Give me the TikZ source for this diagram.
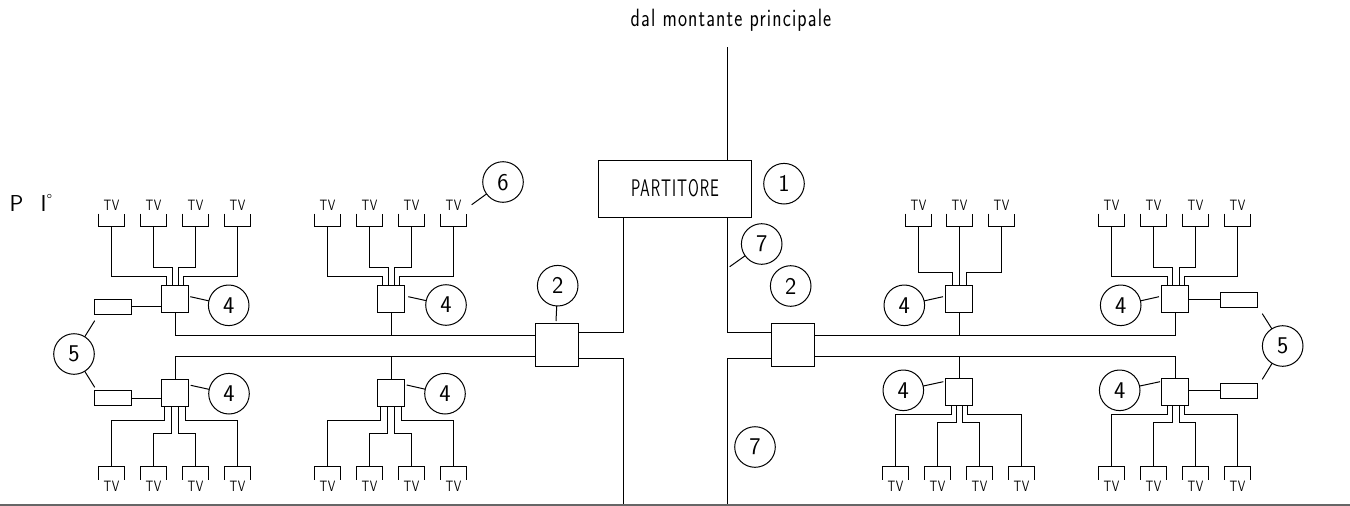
\documentclass[tikz,border=0pt]{standalone}
\usepackage{fontspec}
\newfontfamily\cadfont[LetterSpace=6]{lmsans17-regular.otf}
\newcommand\fs[1]{\fontsize{#1}{#1}\selectfont}
\tikzset{
  every path/.style={line width=1pt,line join=miter},
  every node/.style={inner sep=0pt,outer sep=0pt,font=\cadfont},
  wire/.style={draw=black},
  devbox/.style={draw,rectangle,minimum width=27pt,minimum height=27pt},
  bigbox/.style={draw,rectangle,minimum width=43pt,minimum height=43pt},
  endbox/.style={draw,rectangle,minimum width=37pt,minimum height=15pt},
  ball/.style={draw,circle,minimum size=40.6pt,font=\cadfont\fs{24},text depth=0pt},
  tvbr/.style={rectangle,minimum width=26pt,minimum height=13pt},
  tvtext/.style={font=\cadfont\fs{15},xscale=.8,transform shape},
  plain/.style={font=\cadfont\fs{25},xscale=.77,transform shape}
}
\newcommand\tvtop[2]{\node[tvbr] (#1) at (#2,220) {};
  \draw (#1.north west)--(#1.south west)--(#1.south east)--(#1.north east);
  \node[tvtext] (#1t) at (#2,205.3) {TV};}
\newcommand\tvbot[2]{\node[tvbr] (#1) at (#2,473) {};
  \draw (#1.south west)--(#1.north west)--(#1.north east)--(#1.south east);
  \node[tvtext] (#1t) at (#2,486.2) {TV};}
\newcommand\upw[4]{\draw[wire] (#1.south) |- ([xshift=#3pt,yshift=#4pt]#2.north) -- ([xshift=#3pt]#2.north);}
\newcommand\dnw[4]{\draw[wire] (#1.north) |- ([xshift=#3pt,yshift=#4pt]#2.south) -- ([xshift=#3pt]#2.south);}
\begin{document}
\begin{tikzpicture}[x=1pt,y=-1pt]
\useasboundingbox (0,0) rectangle (1350,506);
% texts
\node[plain] (title) at (731,20) {dal montante principale};
\node[font=\cadfont\fs{23}] (pp) at (16.5,204) {P};
\node[font=\cadfont\fs{23}] (pi) at (43.5,204) {I};
\node[font=\cadfont\fs{16}] (pd) at (49.5,200) {\char"00B0};
% central parts
\coordinate (mtop) at (727.5,47);
\node[draw,rectangle,minimum width=153pt,minimum height=57pt,font=\cadfont\fs{24}] (part) at (675,189) {\raisebox{2pt}{\scalebox{.65}[1]{PARTITORE}}};
\node[bigbox] (bl) at (557,345) {};
\node[bigbox] (br) at (793,345) {};
\coordinate (gl) at (623.5,504);
\coordinate (gr) at (727.5,504);
\coordinate (g0) at (0,504.7);
\coordinate (g1) at (1350,504.7);
\draw[line width=2.2pt,draw=black!60] (g0) -- (g1);
\draw[wire] (mtop) -- (part.north -| mtop);
\draw[wire] (part.south -| gl) |- (bl.east |- 0,332.5);
\draw[wire] (bl.east |- 0,358.5) -| (gl);
\draw[wire] (part.south -| gr) |- (br.west |- 0,332.5);
\draw[wire] (br.west |- 0,358.5) -| (gr);
% left upper 1
\node[devbox] (a) at (175,299) {};
\tvtop{a1}{111.5}\tvtop{a2}{153.5}\tvtop{a3}{195.5}\tvtop{a4}{237.5}
\upw{a1}{a}{-8.5}{9}\upw{a2}{a}{-2.5}{18}\upw{a3}{a}{3.5}{18}\upw{a4}{a}{8.5}{9}
\draw[wire] ([xshift=.5pt]a.south) |- (bl.west |- 0,335.5);
\node[endbox] (ae) at (113,307) {};
\draw[wire] ([yshift=.5pt]ae.east) -- ([yshift=.5pt]ae.east -| a.west);
\node[ball] (c4a) at (228.7,305.3) {4};
\coordinate (c4aa) at (190.3,296.7);
\draw[wire] (c4a) -- (c4aa);
% left upper 2
\node[devbox] (b) at (391,299) {};
\tvtop{b1}{327.5}\tvtop{b2}{369.5}\tvtop{b3}{411.5}\tvtop{b4}{453.5}
\upw{b1}{b}{-8.5}{9}\upw{b2}{b}{-2.5}{18}\upw{b3}{b}{3.5}{18}\upw{b4}{b}{8.5}{9}
\draw[wire] ([xshift=.5pt]b.south) -- ([xshift=.5pt]b.south |- 0,335.5);
\node[ball] (c4b) at (446,305) {4};
\coordinate (c4bb) at (408.3,296.7);
\draw[wire] (c4b) -- (c4bb);
% left lower 1
\node[devbox] (c) at (175,393) {};
\tvbot{c1}{111.5}\tvbot{c2}{153.5}\tvbot{c3}{195.5}\tvbot{c4}{237.5}
\dnw{c1}{c}{-10.5}{-14}\dnw{c2}{c}{-3.5}{-27}\dnw{c3}{c}{3.5}{-27}\dnw{c4}{c}{10.5}{-14}
\draw[wire] ([xshift=.5pt]c.north) |- (bl.west |- 0,356.5);
\node[endbox] (ce) at (113,398) {};
\draw[wire] ([yshift=-.5pt]ce.east) -- ([yshift=-.5pt]ce.east -| c.west);
\node[ball] (c4c) at (229,393.7) {4};
\coordinate (c4cc) at (190.7,385.3);
\draw[wire] (c4c) -- (c4cc);
% left lower 2
\node[devbox] (d) at (391,393) {};
\tvbot{d1}{327.5}\tvbot{d2}{369.5}\tvbot{d3}{411.5}\tvbot{d4}{453.5}
\dnw{d1}{d}{-10.5}{-14}\dnw{d2}{d}{-3.5}{-27}\dnw{d3}{d}{3.5}{-27}\dnw{d4}{d}{10.5}{-14}
\draw[wire] ([xshift=.5pt]d.north) -- ([xshift=.5pt]d.north |- 0,356.5);
\node[ball] (c4d) at (445,393.7) {4};
\coordinate (c4dd) at (406.7,385);
\draw[wire] (c4d) -- (c4dd);
% right upper 1 (three sets)
\node[devbox] (e) at (959,299) {};
\tvtop{e1}{918.5}\tvtop{e2}{959.5}\tvtop{e3}{1001.5}
\upw{e1}{e}{-6.5}{13}\draw[wire] (e2.south) -- ([xshift=.5pt]e.north);\upw{e3}{e}{7.5}{13}
\draw[wire] ([xshift=.5pt]e.south) -- ([xshift=.5pt]e.south |- 0,335.5);
\node[ball] (c4e) at (904.3,305.3) {4};
\coordinate (c4ee) at (943,296.7);
\draw[wire] (c4e) -- (c4ee);
% right upper 2
\node[devbox] (f) at (1175,299) {};
\tvtop{f1}{1111.5}\tvtop{f2}{1153.5}\tvtop{f3}{1195.5}\tvtop{f4}{1237.5}
\upw{f1}{f}{-7.5}{9}\upw{f2}{f}{-2.5}{18}\upw{f3}{f}{4.5}{18}\upw{f4}{f}{9.5}{9}
\draw[wire] ([xshift=.5pt]f.south) |- (br.east |- 0,335.5);
\node[endbox] (fe) at (1239,300) {};
\draw[wire] ([yshift=.5pt]f.east |- fe.west) -- ([yshift=.5pt]fe.west);
\node[ball] (c4f) at (1120.7,305.3) {4};
\coordinate (c4ff) at (1159,296.7);
\draw[wire] (c4f) -- (c4ff);
% right lower 1
\node[devbox] (g) at (959,392) {};
\tvbot{g1}{895.5}\tvbot{g2}{937.5}\tvbot{g3}{979.5}\tvbot{g4}{1021.5}
\dnw{g1}{g}{-7.5}{-9}\dnw{g2}{g}{-2.5}{-17}\dnw{g3}{g}{3.5}{-17}\dnw{g4}{g}{8.5}{-9}
\draw[wire] ([xshift=.5pt]g.north) -- ([xshift=.5pt]g.north |- 0,356.5);
\node[ball] (c4g) at (903.3,390.3) {4};
\coordinate (c4gg) at (943.3,381.7);
\draw[wire] (c4g) -- (c4gg);
% right lower 2
\node[devbox] (h) at (1175,392) {};
\tvbot{h1}{1111.5}\tvbot{h2}{1153.5}\tvbot{h3}{1195.5}\tvbot{h4}{1237.5}
\dnw{h1}{h}{-7.5}{-9}\dnw{h2}{h}{-2.5}{-17}\dnw{h3}{h}{4.5}{-17}\dnw{h4}{h}{9.5}{-9}
\draw[wire] ([xshift=.5pt]h.north) |- (br.east |- 0,356.5);
\node[endbox] (he) at (1239,391) {};
\draw[wire] ([yshift=.5pt]h.east |- he.west) -- ([yshift=.5pt]he.west);
\node[ball] (c4h) at (1119.7,390.3) {4};
\coordinate (c4hh) at (1160,381.7);
\draw[wire] (c4h) -- (c4hh);
% numbered balls
\node[ball] (c1) at (784,183.7) {1};
\node[ball] (c2l) at (557.7,285.7) {2};
\coordinate (c2lb) at (556,321);
\draw[wire] (c2l) -- (c2lb);
\node[ball] (c2r) at (790.7,286) {2};
\node[ball] (c7a) at (761.7,244) {7};
\coordinate (c7aw) at (729.7,266.7);
\draw[wire] (c7a) -- (c7aw);
\node[ball] (c7b) at (755,447) {7};
\node[ball] (c6) at (503,182) {6};
\coordinate (c6w) at (471.7,204.7);
\draw[wire] (c6) -- (c6w);
\node[ball] (c5l) at (74,354) {5};
\coordinate (c5la) at (94.7,320.7);
\coordinate (c5lb) at (94.7,387.3);
\draw[wire] (c5l) -- (c5la);
\draw[wire] (c5l) -- (c5lb);
\node[ball] (c5r) at (1282.7,346) {5};
\coordinate (c5ra) at (1262.3,313.7);
\coordinate (c5rb) at (1262.3,379.3);
\draw[wire] (c5r) -- (c5ra);
\draw[wire] (c5r) -- (c5rb);
\end{tikzpicture}
\end{document}
